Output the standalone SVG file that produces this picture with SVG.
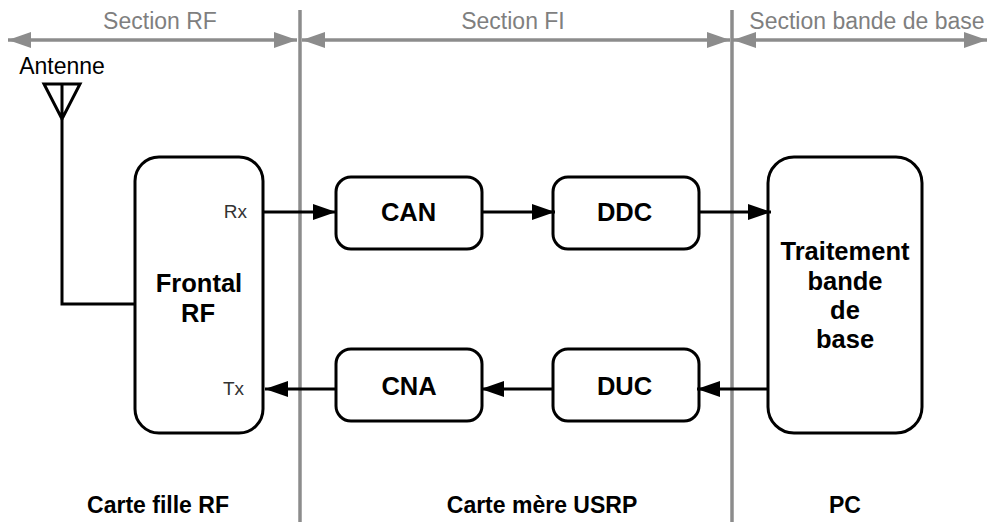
<svg xmlns="http://www.w3.org/2000/svg" width="988" height="522" viewBox="0 0 988 522">
<style>
text{font-family:"Liberation Sans",Arial,sans-serif;text-anchor:middle}
.sec{font-size:23px;fill:#7f7f7f}
.t{font-size:25.5px;font-weight:bold;fill:#000}
.f{font-size:23px;font-weight:bold;fill:#000}
.s{font-size:19px;fill:#333;text-anchor:end}
.box{fill:#fff;stroke:#000;stroke-width:3}
.g{stroke:#8c8c8c;fill:none;stroke-width:3.5}
.k{stroke:#000;stroke-width:3;fill:none}
</style>
<defs>
<marker id="ga" markerUnits="userSpaceOnUse" markerWidth="24" markerHeight="18" refX="23" refY="8" orient="auto-start-reverse"><path d="M0 0L23 8L0 16Z" fill="#8c8c8c"/></marker>
<marker id="ka" markerUnits="userSpaceOnUse" markerWidth="24" markerHeight="18" refX="23" refY="8" orient="auto"><path d="M0 0L23 8L0 16Z" fill="#000"/></marker>
</defs>
<rect width="988" height="522" fill="#fff"/>
<g id="separators">
<line class="g" x1="300" y1="10" x2="300" y2="522"/>
<line class="g" x1="732" y1="10" x2="732" y2="522"/>
</g>
<g id="section-rf"><text class="sec" x="160" y="29">Section RF</text><line class="g" x1="8" y1="40" x2="297" y2="40" marker-start="url(#ga)" marker-end="url(#ga)"/></g>
<g id="section-fi"><text class="sec" x="513" y="29">Section FI</text><line class="g" x1="302" y1="40" x2="730" y2="40" marker-start="url(#ga)" marker-end="url(#ga)"/></g>
<g id="section-bb"><text class="sec" x="867" y="29">Section bande de base</text><line class="g" x1="733" y1="40" x2="987" y2="40" marker-start="url(#ga)" marker-end="url(#ga)"/></g>
<g id="antenne">
<text x="62" y="74" font-size="23" fill="#000">Antenne</text>
<path class="k" d="M44 84H80L62 119ZM62 84V119"/>
</g>
<g id="frontal"><rect class="box" x="135" y="157" width="128" height="276" rx="24"/>
<text class="t" x="199" y="292">Frontal</text><text class="t" x="198" y="322">RF</text>
<text class="s" x="247" y="218">Rx</text><text class="s" x="244" y="395">Tx</text></g>
<g id="can"><rect class="box" x="336" y="177" width="146" height="72" rx="15"/><text class="t" x="408.5" y="221">CAN</text></g>
<g id="ddc"><rect class="box" x="553" y="177" width="146" height="72" rx="15"/><text class="t" x="624.5" y="221">DDC</text></g>
<g id="cna"><rect class="box" x="336" y="349" width="146" height="72" rx="15"/><text class="t" x="409" y="395">CNA</text></g>
<g id="duc"><rect class="box" x="553" y="349" width="146" height="72" rx="15"/><text class="t" x="624.5" y="395">DUC</text></g>
<g id="traitement"><rect class="box" x="768" y="157" width="154" height="276" rx="26"/>
<text class="t" x="845" y="260">Traitement</text><text class="t" x="845" y="290">bande</text><text class="t" x="845" y="319">de</text><text class="t" x="845" y="348">base</text></g>
<g id="connectors">
<path class="k" d="M62 119V304H135"/>
<line class="k" x1="263" y1="212" x2="336" y2="212" marker-end="url(#ka)"/>
<line class="k" x1="482" y1="212" x2="555" y2="212" marker-end="url(#ka)"/>
<line class="k" x1="699" y1="212" x2="771" y2="212" marker-end="url(#ka)"/>
<line class="k" x1="768" y1="389" x2="697" y2="389" marker-end="url(#ka)"/>
<line class="k" x1="553" y1="389" x2="481" y2="389" marker-end="url(#ka)"/>
<line class="k" x1="336" y1="389" x2="265" y2="389" marker-end="url(#ka)"/>
</g>
<g id="footer">
<text class="f" x="158" y="513">Carte fille RF</text>
<text class="f" x="542" y="513">Carte mère USRP</text>
<text class="f" x="845" y="513">PC</text>
</g>
</svg>
